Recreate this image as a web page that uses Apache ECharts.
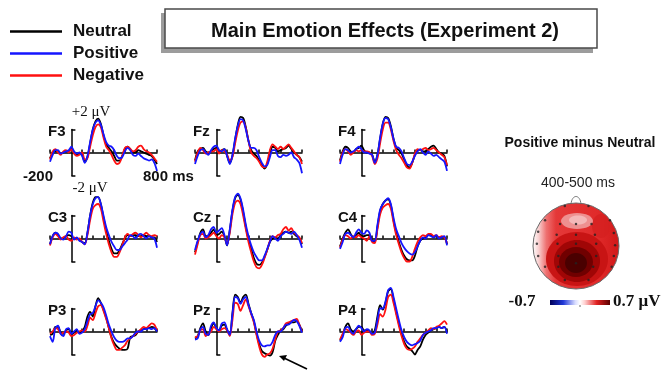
<!DOCTYPE html>
<html>
<head>
<meta charset="utf-8">
<script src="https://cdn.jsdelivr.net/npm/echarts@6/dist/echarts.min.js"></script>
<style>
html, body { margin: 0; padding: 0; background: #fff; }
#chart { width: 662px; height: 371px; }
</style>
</head>
<body>
<div id="chart"></div>
<script>
// Epoch sample times (ms), one sample every 25 ms
const times = [-200,-175,-150,-125,-100,-75,-50,-25,0,25,50,75,100,125,150,175,200,225,250,275,300,325,350,375,400,425,450,475,500,525,550,575,600,625,650,675,700,725,750,775,800];

// Grand-average amplitudes (µV) per electrode and condition
const f3Neutral  = [-0.5,0.0,0.1,0.1,-0.1,0.0,0.1,0.1,0.4,0.0,-0.2,-0.1,-0.2,-0.8,-0.4,0.8,2.0,2.7,2.95,2.5,1.5,0.7,0.4,0.1,-0.3,-0.7,-0.7,-0.3,0.3,0.5,0.3,0.0,0.0,0.2,0.1,0.0,-0.1,-0.2,-0.3,-0.6,-1.0];
const f3Positive = [-0.8,-0.2,0.2,0.2,-0.1,0.0,0.1,0.2,0.5,0.1,-0.1,0.0,-0.3,-0.9,-0.3,0.9,2.0,2.6,2.8,2.4,1.6,0.9,0.6,0.5,0.2,-0.3,-0.5,-0.4,0.1,0.4,0.2,-0.2,-0.3,-0.1,-0.3,-0.5,-0.6,-0.7,-0.6,-0.9,-1.6];
const f3Negative = [-0.6,0.1,0.3,0.0,-0.2,0.1,0.2,0.0,0.3,-0.1,-0.3,-0.2,0.0,-0.6,-0.5,0.5,1.5,2.2,2.45,2.2,1.3,0.5,0.2,-0.2,-0.7,-1.0,-0.9,-0.3,0.4,0.5,0.3,0.1,0.2,0.5,0.6,0.3,0.1,0.0,-0.2,-0.5,-0.8];

const fzNeutral  = [-0.7,0.1,0.3,0.4,0.1,0.0,0.1,0.3,0.4,0.0,0.2,0.3,-0.3,-0.9,-0.3,1.1,2.4,3.1,3.0,2.2,1.0,0.2,-0.1,-0.3,-0.7,-1.1,-1.4,-1.0,-0.1,0.5,0.4,0.1,0.2,0.3,0.4,0.6,0.3,0.0,-0.2,-0.4,-0.8];
const fzPositive = [-1.0,-0.3,0.2,0.3,0.0,-0.2,0.2,0.5,0.6,0.2,0.1,0.3,-0.3,-1.0,-0.2,1.2,2.3,2.9,2.8,2.0,1.0,0.4,0.4,0.2,-0.4,-0.9,-1.2,-1.1,-0.4,0.2,0.2,-0.3,-0.4,-0.2,-0.3,-0.2,0.0,-0.4,-0.6,-0.9,-1.8];
const fzNegative = [-0.8,0.0,0.4,0.2,-0.1,0.0,0.1,0.1,0.3,-0.1,0.2,0.1,-0.2,-0.7,-0.4,0.8,1.9,2.6,2.7,2.1,1.0,0.0,-0.3,-0.5,-0.8,-1.2,-1.3,-0.8,0.2,0.7,0.5,0.3,0.5,0.3,0.5,0.7,0.4,0.1,-0.2,-0.4,-1.0];

const f4Neutral  = [-0.7,0.1,0.5,0.4,0.1,0.0,0.3,0.4,0.6,0.2,0.0,0.0,-0.2,-0.8,-0.2,1.2,2.5,3.1,3.0,2.3,1.2,0.4,0.2,-0.1,-0.6,-1.1,-1.3,-0.9,-0.2,0.2,0.2,0.1,0.1,0.3,0.5,0.6,0.3,0.0,-0.1,-0.3,-1.2];
const f4Positive = [-1.0,-0.2,0.3,0.2,0.0,0.1,0.3,0.5,0.3,0.0,0.0,-0.1,-0.2,-0.9,-0.2,1.3,2.5,3.0,2.9,2.2,1.2,0.5,0.4,0.1,-0.5,-1.0,-1.1,-0.8,-0.3,0.1,0.3,0.0,-0.2,0.1,-0.1,-0.3,-0.2,-0.4,-0.6,-0.8,-1.6];
const f4Negative = [-0.8,0.0,0.3,0.1,-0.2,0.0,0.2,0.1,0.2,0.1,0.1,0.0,-0.3,-1.0,-0.5,0.8,2.0,2.6,2.6,2.0,1.0,0.2,-0.2,-0.5,-0.9,-1.3,-1.4,-0.9,-0.1,0.3,0.2,0.3,0.4,0.2,0.3,0.4,0.2,0.0,-0.2,-0.4,-1.1];

const c3Neutral  = [-0.5,0.2,0.5,0.3,0.0,0.0,0.2,0.3,0.2,0.0,0.0,-0.1,-0.3,-0.4,0.5,2.0,3.1,3.6,3.6,3.0,1.8,0.7,-0.2,-0.9,-1.3,-1.3,-1.0,-0.5,0.0,0.3,0.2,0.3,0.3,0.2,0.2,0.3,0.2,0.2,0.1,0.1,-0.3];
const c3Positive = [-0.5,0.2,0.5,0.4,0.0,-0.1,0.2,0.6,0.5,-0.1,0.1,-0.2,-0.3,-0.5,0.5,2.0,3.0,3.5,3.6,3.0,2.0,1.0,0.3,-0.3,-0.7,-1.0,-1.0,-0.7,-0.4,-0.1,0.3,0.2,0.0,0.3,0.4,0.2,0.0,0.2,0.1,0.0,-0.8];
const c3Negative = [-0.6,0.1,0.4,0.2,-0.1,0.1,0.2,-0.1,-0.2,0.1,-0.1,0.0,-0.3,-0.5,0.3,1.6,2.6,2.9,3.0,2.6,1.5,0.4,-0.5,-1.2,-1.6,-1.6,-1.2,-0.6,0.1,0.4,0.2,0.4,0.5,0.3,0.1,0.3,0.5,0.3,0.2,0.3,0.2];

const czNeutral  = [-1.2,-0.3,0.5,0.8,0.2,0.2,0.5,0.8,0.3,0.4,0.6,0.2,-0.6,0.7,2.4,3.5,3.8,3.4,2.3,1.0,-0.1,-0.9,-1.7,-2.2,-2.3,-2.1,-1.6,-1.0,-0.3,0.0,0.1,0.0,0.3,0.5,0.6,0.5,0.6,0.4,0.2,0.0,-0.5];
const czPositive = [-1.0,-0.2,0.4,0.6,0.1,0.3,0.8,1.0,0.5,0.7,0.9,0.3,-0.6,0.8,2.5,3.6,3.9,3.5,2.5,1.2,0.2,-0.6,-1.2,-1.6,-1.9,-1.9,-1.5,-0.9,-0.3,0.2,0.0,-0.2,0.2,0.4,0.6,0.5,0.4,0.6,0.3,-0.1,-0.8];
const czNegative = [-1.4,-0.5,0.3,0.4,0.0,0.1,0.3,0.5,0.2,0.0,0.3,0.1,-0.5,0.5,2.1,3.1,3.3,3.0,2.0,0.8,-0.3,-1.2,-2.0,-2.5,-2.6,-2.3,-1.7,-1.0,-0.2,0.2,0.1,0.3,0.4,0.8,1.0,0.7,0.9,0.5,0.3,0.1,-0.4];

const c4Neutral  = [-0.7,0.0,0.5,0.8,0.4,0.1,0.3,0.5,0.2,0.2,0.3,0.3,-0.2,-0.3,1.0,2.4,3.0,3.3,3.4,2.9,1.6,0.5,-0.3,-1.0,-1.5,-1.8,-1.9,-1.9,-1.5,-0.7,-0.2,0.0,0.1,0.3,0.3,0.1,0.2,0.1,0.1,0.1,-0.5];
const c4Positive = [-0.9,-0.3,0.4,0.5,0.3,0.1,0.5,0.8,0.5,0.4,0.7,0.5,-0.2,-0.2,1.2,2.5,3.0,3.3,3.5,3.0,1.8,0.8,0.2,-0.4,-0.8,-1.1,-1.3,-1.4,-1.2,-0.7,-0.2,0.1,0.0,0.3,0.2,0.1,0.3,0.0,0.1,0.2,-0.6];
const c4Negative = [-0.8,-0.1,0.3,0.2,0.0,0.2,0.1,0.3,0.1,0.0,-0.2,0.2,-0.3,-0.4,0.8,2.1,2.7,2.9,3.0,2.6,1.4,0.3,-0.5,-1.2,-1.7,-2.0,-2.0,-1.6,-0.9,-0.3,0.1,0.3,0.2,0.4,0.4,0.2,0.3,0.1,0.2,0.1,-0.4];

const p3Neutral  = [-0.3,-0.2,0.4,0.4,-0.1,-0.2,0.1,0.2,-0.2,-0.1,0.1,-0.1,0.0,0.4,1.3,1.7,1.3,2.2,2.9,2.5,1.9,1.2,0.3,-0.5,-1.0,-1.3,-1.5,-1.6,-1.6,-1.5,-0.5,-0.4,-0.3,0.0,0.1,0.2,0.3,0.3,0.4,0.3,0.0];
const p3Positive = [-0.4,-0.9,0.3,0.5,-0.2,-0.4,0.2,0.3,-0.2,0.0,0.2,-0.2,-0.1,0.2,0.9,1.5,1.6,2.2,2.7,2.5,2.1,1.4,0.6,0.0,-0.5,-0.8,-0.9,-0.9,-0.8,-0.6,-0.6,-0.4,-0.1,0.0,0.0,0.2,0.2,0.3,0.2,0.3,0.0];
const p3Negative = [-0.2,0.0,0.3,0.2,-0.2,-0.1,0.0,-0.1,-0.4,-0.3,-0.1,0.0,0.1,0.0,0.5,1.2,1.0,1.6,2.2,2.3,1.8,1.1,0.3,-0.6,-1.2,-1.6,-1.6,-1.4,-1.2,-0.8,-0.6,-0.4,-0.2,0.0,0.2,0.4,0.3,0.5,0.7,0.6,0.1];

const pzNeutral  = [-0.6,-0.4,0.3,0.7,0.0,-0.3,0.3,0.7,0.3,0.1,0.5,0.6,0.1,-0.3,1.6,3.2,3.0,2.5,3.0,3.2,2.4,1.6,0.9,-0.2,-1.1,-1.7,-1.9,-2.0,-2.1,-1.8,-0.8,-0.3,0.1,0.2,0.5,0.7,0.8,0.8,0.9,0.6,0.0];
const pzPositive = [-0.7,-0.6,0.2,0.4,-0.2,-0.3,0.5,0.8,0.3,0.1,0.7,0.8,0.2,-0.3,1.5,3.0,2.9,2.4,2.8,3.0,2.3,1.6,1.0,0.0,-0.8,-1.2,-1.3,-1.2,-1.2,-0.9,-0.3,0.0,0.0,0.3,0.6,0.6,0.8,1.0,0.9,0.5,-0.1];
const pzNegative = [-0.5,-0.4,0.1,0.2,-0.4,-0.2,0.0,0.4,0.2,0.0,0.2,0.3,0.1,-0.4,1.0,2.5,2.4,1.8,2.3,2.8,2.2,1.5,0.8,-0.3,-1.3,-2.0,-2.2,-2.0,-1.9,-1.5,-0.7,0.0,0.1,0.3,0.7,0.8,0.9,1.0,1.1,0.6,0.0];

const p4Neutral  = [-0.8,-0.3,0.4,0.7,0.2,0.0,0.2,0.4,0.4,0.1,0.1,0.0,-0.2,0.1,1.3,2.3,1.9,2.5,3.5,3.7,2.8,1.7,0.7,-0.2,-0.9,-1.3,-1.5,-1.7,-2.0,-1.6,-1.3,-0.7,-0.3,-0.1,0.1,0.2,0.3,0.4,0.3,0.4,-0.1];
const p4Positive = [-0.9,-0.5,0.3,0.4,0.0,-0.2,0.2,0.5,0.3,0.0,0.2,0.1,-0.2,-0.1,1.0,2.0,2.0,2.6,3.6,3.8,3.0,2.0,1.0,0.1,-0.5,-0.9,-1.1,-1.2,-1.1,-1.0,-0.8,-0.3,-0.1,0.0,0.1,0.3,0.3,0.4,0.3,0.4,-0.2];
const p4Negative = [-0.7,-0.2,0.2,0.1,-0.1,-0.3,0.0,0.1,-0.3,-0.1,0.0,0.0,-0.3,-0.2,0.6,1.5,1.3,1.9,3.0,3.2,2.5,1.5,0.5,-0.4,-1.1,-1.5,-1.6,-1.5,-1.3,-0.9,-0.6,-0.3,-0.1,0.1,0.3,0.2,0.4,0.5,0.7,0.9,0.6];

const electrodes = ['F3','Fz','F4','C3','Cz','C4','P3','Pz','P4'];
const conditions = ['Neutral','Positive','Negative'];
const waves = {
  F3: [f3Neutral, f3Positive, f3Negative], Fz: [fzNeutral, fzPositive, fzNegative], F4: [f4Neutral, f4Positive, f4Negative],
  C3: [c3Neutral, c3Positive, c3Negative], Cz: [czNeutral, czPositive, czNegative], C4: [c4Neutral, c4Positive, c4Negative],
  P3: [p3Neutral, p3Positive, p3Negative], Pz: [pzNeutral, pzPositive, pzNegative], P4: [p4Neutral, p4Positive, p4Negative]
};
const xTicks = [-200,100,200,300,400,500,600,700,800];

// Scalp positions of the recording sites for the difference map (unit head radius)
const siteX = [-0.26,0.29,-0.72,-0.37,0,0.36,0.79,-0.88,-0.45,0,0.44,0.88,-0.91,-0.43,0,0.47,0.91,-0.88,-0.41,0,0.47,0.88,-0.72,-0.41,0.40,0.83,-0.26,0.29];
const siteY = [0.93,0.93,0.60,0.51,0.51,0.51,0.60,0.33,0.26,0.26,0.26,0.30,0.05,0.05,0.05,0.05,0.02,-0.23,-0.23,-0.40,-0.23,-0.23,-0.48,-0.48,-0.48,-0.48,-0.79,-0.79];
const mapRange = [-0.7, 0.7];

// ---- layout ----
const colLeft = [50, 195, 340];
const rowTop = [129.5, 215.5, 308.5];
const panelW = 107, panelH = 46;
const condColor = { Neutral: '#000000', Positive: '#1515ff', Negative: '#ff1010' };
const drawOrder = [0, 2, 1]; // black, then red, then blue on top
const SANS = 'Liberation Sans, Arial, sans-serif';
const SERIF = 'Liberation Serif, Times New Roman, serif';

const chart = echarts.init(document.getElementById('chart'), null, { renderer: 'canvas' });

const grids = [], xAxes = [], yAxes = [], series = [], graphics = [];

electrodes.forEach((name, i) => {
  const col = i % 3, row = Math.floor(i / 3);
  grids.push({ left: colLeft[col], top: rowTop[row], width: panelW, height: panelH, containLabel: false });
  xAxes.push({
    type: 'value', gridIndex: i, min: -200, max: 800, interval: 100,
    axisLine: { show: true, onZero: true, lineStyle: { color: '#000', width: 1.5 } },
    axisTick: { show: true, customValues: xTicks, inside: true, length: 3, lineStyle: { color: '#000', width: 1.5 } },
    axisLabel: { show: false }, splitLine: { show: false }
  });
  yAxes.push({
    type: 'value', gridIndex: i, min: -2, max: 2, interval: 4,
    axisLine: { show: true, onZero: true, lineStyle: { color: '#000', width: 1.5 } },
    axisTick: { show: true, inside: true, length: 4, lineStyle: { color: '#000', width: 1.5 } },
    axisLabel: { show: false }, splitLine: { show: false }
  });
  drawOrder.forEach(c => {
    const vals = waves[name][c];
    series.push({
      type: 'line', name: conditions[c], xAxisIndex: i, yAxisIndex: i,
      data: times.map((t, k) => [t, vals[k]]),
      showSymbol: false, symbol: 'none', smooth: 0.3, clip: false,
      color: condColor[conditions[c]],
      lineStyle: { width: 1.8, color: condColor[conditions[c]] },
      silent: true, animation: false, z: 3
    });
  });
  graphics.push({
    type: 'text', left: colLeft[col] - 2, top: rowTop[row] - 5,
    style: { text: name, font: 'bold 15px ' + SANS, fill: '#111' }
  });
});

// difference-map electrode sites
const mapIdx = electrodes.length;
grids.push({ left: 533, top: 203, width: 86, height: 86 });
xAxes.push({ type: 'value', gridIndex: mapIdx, min: -1, max: 1, show: false });
yAxes.push({ type: 'value', gridIndex: mapIdx, min: -1, max: 1, show: false });
series.push({
  type: 'scatter', xAxisIndex: mapIdx, yAxisIndex: mapIdx,
  data: siteX.map((x, k) => [x, siteY[k]]), symbolSize: 2.5,
  itemStyle: { color: '#222' }, silent: true, z: 10
});

// ---- annotations for the F3 scale ----
graphics.push(
  { type: 'text', x: 91, y: 112, style: { text: '+2 \u03bcV', font: '15px ' + SERIF, fill: '#111', textAlign: 'center', textVerticalAlign: 'middle' } },
  { type: 'text', x: 90, y: 188, style: { text: '-2 \u03bcV', font: '15px ' + SERIF, fill: '#111', textAlign: 'center', textVerticalAlign: 'middle' } },
  { type: 'text', x: 38, y: 177, style: { text: '-200', font: 'bold 15px ' + SANS, fill: '#111', textAlign: 'center', textVerticalAlign: 'middle' } },
  { type: 'text', x: 143, y: 177, style: { text: '800 ms', font: 'bold 15px ' + SANS, fill: '#111', textAlign: 'left', textVerticalAlign: 'middle' } }
);

// ---- title box ----
graphics.push(
  { type: 'rect', shape: { x: 161, y: 13, width: 432, height: 40 }, style: { fill: '#9c9c9c' }, z: -2 },
  { type: 'rect', shape: { x: 165, y: 9, width: 432, height: 39 }, style: { fill: '#fff', stroke: '#4a4a4a', lineWidth: 1.5 }, z: -1 }
);

// ---- arrow pointing at the Pz negativity ----
graphics.push(
  { type: 'line', shape: { x1: 307, y1: 369, x2: 284, y2: 358 }, style: { stroke: '#000', lineWidth: 1.6 } },
  { type: 'polygon', shape: { points: [[279, 356], [287, 355], [284, 361]] }, style: { fill: '#000' } }
);

// ---- scalp difference map ----
const cx = 576, cy = 246, r = 43;
graphics.push(
  { type: 'text', x: 580, y: 143, style: { text: 'Positive minus Neutral', font: 'bold 14px ' + SANS, fill: '#111', textAlign: 'center', textVerticalAlign: 'middle' } },
  { type: 'text', x: 578, y: 183, style: { text: '400-500 ms', font: '14px ' + SANS, fill: '#222', textAlign: 'center', textVerticalAlign: 'middle' } },
  { type: 'bezierCurve', shape: { x1: 571, y1: 204, x2: 581, y2: 204, cpx1: 572, cpy1: 194, cpx2: 580, cpy2: 194 }, style: { stroke: '#777', lineWidth: 1, fill: 'none' } },
  {
    type: 'circle', shape: { cx: cx, cy: cy, r: r },
    style: {
      fill: new echarts.graphic.LinearGradient(0, 0, 1, 0, [
        { offset: 0, color: '#ffffff' }, { offset: 0.07, color: '#f8d0d0' },
        { offset: 0.16, color: '#ee7070' }, { offset: 0.27, color: '#e43838' },
        { offset: 0.75, color: '#e02a2a' }, { offset: 1, color: '#d01818' }
      ]),
      stroke: '#6a6a6a', lineWidth: 1
    }
  },
  { type: 'ellipse', shape: { cx: 601, cy: 226, rx: 9, ry: 12 }, style: { fill: '#d42020', opacity: 0.7 } },
  { type: 'ellipse', shape: { cx: 577, cy: 221, rx: 16, ry: 8 }, style: { fill: '#ee9090' } },
  { type: 'ellipse', shape: { cx: 578, cy: 220, rx: 9, ry: 4.5 }, style: { fill: '#f4b8b8' } },
  { type: 'ellipse', shape: { cx: 577, cy: 259, rx: 31, ry: 27 }, style: { fill: '#c81414' } },
  { type: 'ellipse', shape: { cx: 577, cy: 261, rx: 23, ry: 21 }, style: { fill: '#a00606' } },
  { type: 'ellipse', shape: { cx: 576, cy: 262, rx: 17, ry: 15 }, style: { fill: '#700000' } },
  { type: 'ellipse', shape: { cx: 576, cy: 263, rx: 11, ry: 10 }, style: { fill: '#4a0000' } },
  {
    type: 'rect', shape: { x: 550, y: 300, width: 60, height: 5 },
    style: {
      fill: new echarts.graphic.LinearGradient(0, 0, 1, 0, [
        { offset: 0, color: '#00005a' }, { offset: 0.22, color: '#2038d8' },
        { offset: 0.42, color: '#d8dcff' }, { offset: 0.5, color: '#ffffff' },
        { offset: 0.58, color: '#ffd0d0' }, { offset: 0.78, color: '#e02020' },
        { offset: 1, color: '#5a0000' }
      ])
    }
  },
  { type: 'line', shape: { x1: 580, y1: 305, x2: 580, y2: 307 }, style: { stroke: '#666', lineWidth: 1 } },
  { type: 'text', x: 522, y: 302, style: { text: String(mapRange[0]), font: 'bold 17px ' + SERIF, fill: '#111', textAlign: 'center', textVerticalAlign: 'middle' } },
  { type: 'text', x: 613, y: 302, style: { text: mapRange[1] + ' \u03bcV', font: 'bold 17px ' + SERIF, fill: '#111', textAlign: 'left', textVerticalAlign: 'middle' } }
);

chart.setOption({
  animation: false,
  backgroundColor: '#fff',
  title: {
    text: 'Main Emotion Effects (Experiment 2)', left: 380, top: 16, textAlign: 'center',
    textStyle: { fontFamily: SANS, fontSize: 20, fontWeight: 'bold', color: '#111' }
  },
  legend: {
    data: conditions, orient: 'vertical', left: 5, top: 18, icon: 'rect',
    itemWidth: 52, itemHeight: 2.5, itemGap: 5, selectedMode: false,
    textStyle: { fontFamily: SANS, fontSize: 17, fontWeight: 'bold', color: '#111', lineHeight: 17, padding: [0, 0, 0, 6] }
  },
  grid: grids, xAxis: xAxes, yAxis: yAxes, series: series,
  graphic: graphics
});
</script>
</body>
</html>
